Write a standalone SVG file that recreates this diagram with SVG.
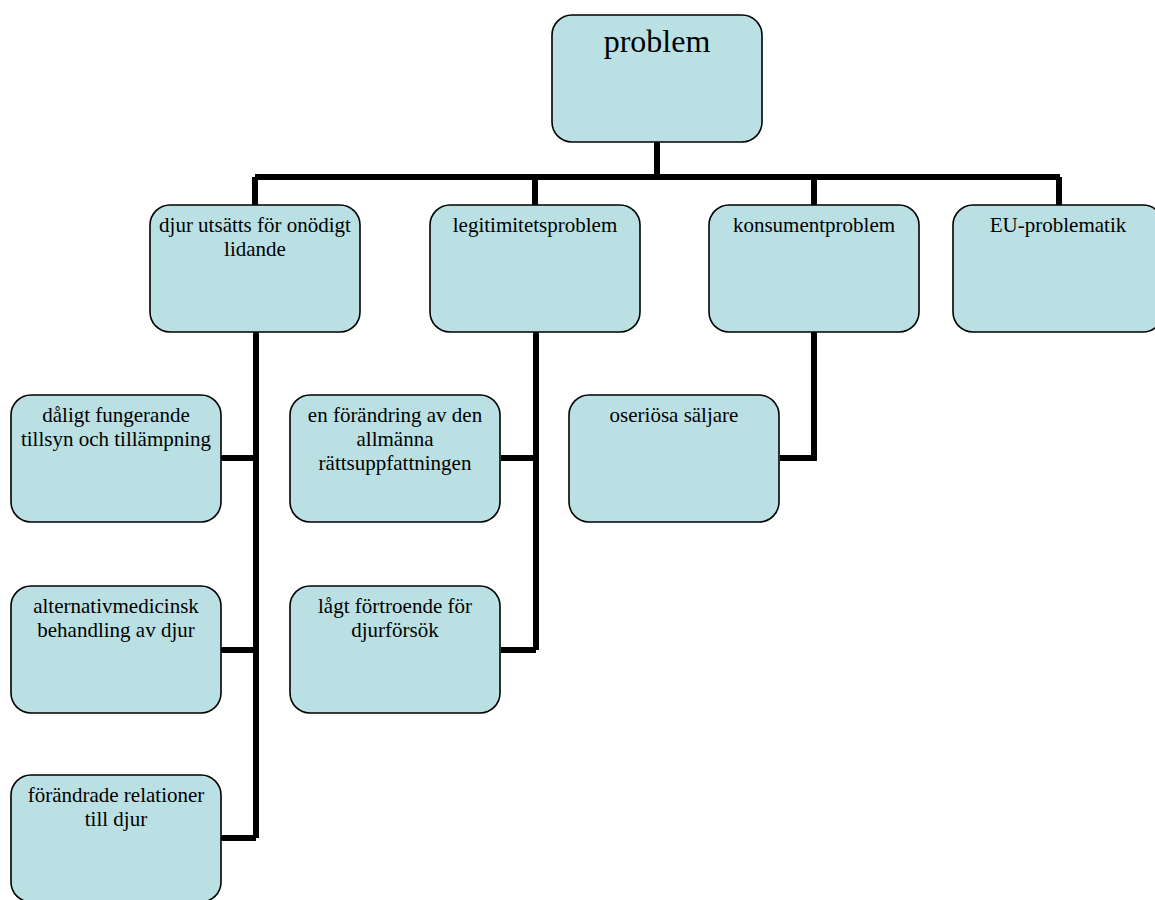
<svg xmlns="http://www.w3.org/2000/svg" width="1155" height="900" viewBox="0 0 1155 900">
<style>
.box{fill:#bae0e3;stroke:#000;stroke-width:1.6}
.t{font-family:"Liberation Serif","Times New Roman",serif;font-size:21px;fill:#000;text-anchor:middle}
.big{font-size:32px}
.c{fill:none;stroke:#000;stroke-width:6;stroke-linejoin:miter;stroke-linecap:butt}
</style>
<rect width="1155" height="900" fill="#fff"/>
<g id="connectors">
<path class="c" d="M657 142V177M255 177H1060M255 177V205M535 177V205M814 177V205M1059 177V205"/>
<path class="c" d="M256 332V838M221 458H256M221 650H256M221 838H256"/>
<path class="c" d="M536 332V650M501 458H536M501 650H536"/>
<path class="c" d="M814 332V458H780"/>
</g>
<g id="n-problem"><rect class="box" x="552" y="15" width="210" height="127" rx="20"/><text class="t big" x="657" y="52">problem</text></g>
<g id="n-djur"><rect class="box" x="150" y="205" width="210" height="127" rx="20"/><text class="t" x="255" y="232">djur utsätts för onödigt</text><text class="t" x="255" y="256">lidande</text></g>
<g id="n-legit"><rect class="box" x="430" y="205" width="210" height="127" rx="20"/><text class="t" x="535" y="232">legitimitetsproblem</text></g>
<g id="n-konsument"><rect class="box" x="709" y="205" width="210" height="127" rx="20"/><text class="t" x="814" y="232">konsumentproblem</text></g>
<g id="n-eu"><rect class="box" x="953" y="205" width="210" height="127" rx="20"/><text class="t" x="1058" y="232">EU-problematik</text></g>
<g id="n-daligt"><rect class="box" x="11" y="395" width="210" height="127" rx="20"/><text class="t" x="116" y="422">dåligt fungerande</text><text class="t" x="116" y="446">tillsyn och tillämpning</text></g>
<g id="n-alt"><rect class="box" x="11" y="586" width="210" height="127" rx="20"/><text class="t" x="116" y="613">alternativmedicinsk</text><text class="t" x="116" y="637">behandling av djur</text></g>
<g id="n-forandrade"><rect class="box" x="11" y="775" width="210" height="127" rx="20"/><text class="t" x="116" y="802">förändrade relationer</text><text class="t" x="116" y="826">till djur</text></g>
<g id="n-enforandring"><rect class="box" x="290" y="395" width="210" height="127" rx="20"/><text class="t" x="395" y="422">en förändring av den</text><text class="t" x="395" y="446">allmänna</text><text class="t" x="395" y="470">rättsuppfattningen</text></g>
<g id="n-lagt"><rect class="box" x="290" y="586" width="210" height="127" rx="20"/><text class="t" x="395" y="613">lågt förtroende för</text><text class="t" x="395" y="637">djurförsök</text></g>
<g id="n-oseriosa"><rect class="box" x="569" y="395" width="210" height="127" rx="20"/><text class="t" x="674" y="422">oseriösa säljare</text></g>
</svg>
